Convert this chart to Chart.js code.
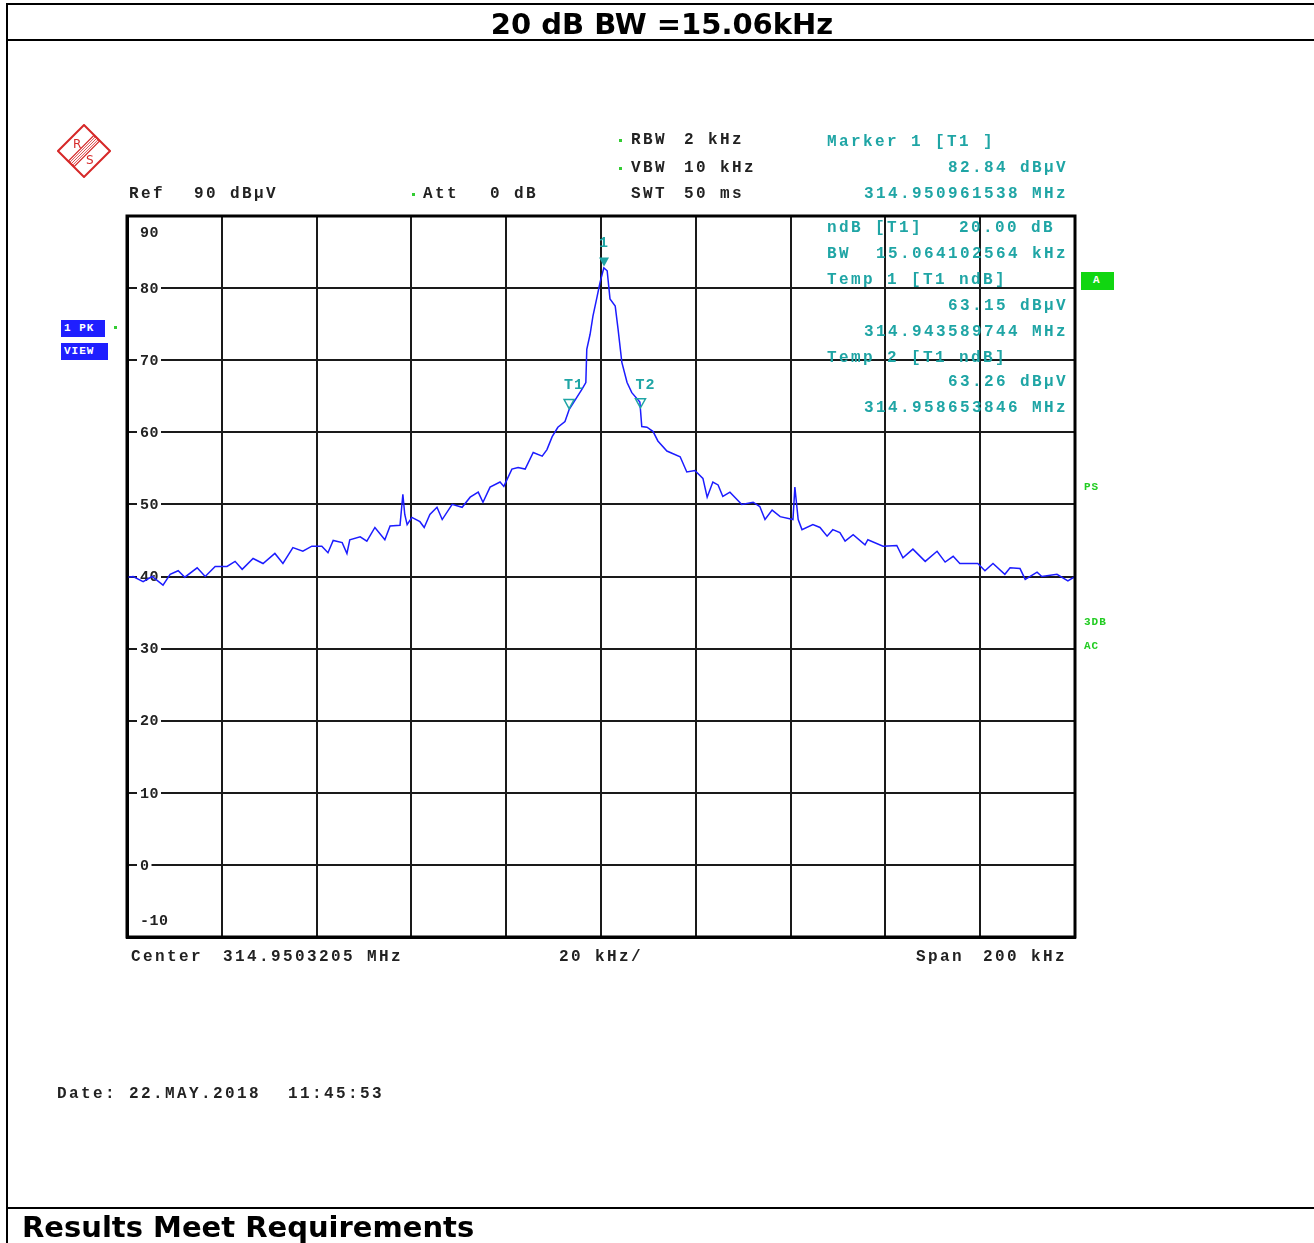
<!DOCTYPE html>
<html>
<head>
<meta charset="utf-8">
<title>20 dB BW</title>
<script src="https://cdn.jsdelivr.net/npm/chart.js@4/dist/chart.umd.min.js"></script>
<style>
  html, body { margin: 0; padding: 0; background: #fff; }
  body { width: 1314px; height: 1243px; position: relative; overflow: hidden; }
  #chart { position: absolute; left: 0; top: 0; }
  .rule { position: absolute; background: #000; }
  .hdr { position: absolute; font-family: "DejaVu Sans", Verdana, sans-serif; font-weight: bold;
         font-size: 29px; line-height: 29px; color: #000; white-space: pre; }
  .mono { position: absolute; font-family: "Liberation Mono", "Courier New", monospace; font-weight: bold;
          font-size: 16px; line-height: 16px; letter-spacing: 2.4px; white-space: pre; color: #222; }
  .teal { color: #1fa5a5; }
  .tiny { position: absolute; font-family: "Liberation Mono", monospace; font-weight: bold;
          font-size: 11px; line-height: 11px; letter-spacing: 1px; color: #22cc22; }
  .dot { position: absolute; width: 3px; height: 3px; background: #33cc33; }
  .box { position: absolute; color: #fff; font-family: "Liberation Mono", monospace; font-weight: bold;
         font-size: 11px; line-height: 17px; letter-spacing: 1px; padding-left: 3px; box-sizing: border-box; white-space: pre; }
</style>
</head>
<body>
<canvas id="chart" width="1314" height="1243"></canvas>

<div class="rule" style="left:6px;top:3px;width:1308px;height:2px"></div>
<div class="rule" style="left:6px;top:39px;width:1308px;height:2px"></div>
<div class="rule" style="left:6px;top:1207px;width:1308px;height:2px"></div>
<div class="rule" style="left:6px;top:3px;width:2px;height:1240px"></div>

<div class="hdr" style="left:7px;width:1310px;top:10px;text-align:center">20 dB BW =15.06kHz</div>
<div class="hdr" style="left:22px;top:1213px">Results Meet Requirements</div>

<svg style="position:absolute;left:57px;top:124px" width="54" height="54" viewBox="0 0 54 54">
  <polygon points="27,1 53,27 27,53 1,27" fill="none" stroke="#d62828" stroke-width="2"/>
  <g transform="rotate(-45 27 27)">
    <rect x="9" y="23" width="36" height="8" fill="none" stroke="#d62828" stroke-width="1.2"/>
    <line x1="9" y1="25" x2="45" y2="25" stroke="#d62828" stroke-width="0.8"/>
    <line x1="9" y1="27" x2="45" y2="27" stroke="#d62828" stroke-width="0.8"/>
    <line x1="9" y1="29" x2="45" y2="29" stroke="#d62828" stroke-width="0.8"/>
  </g>
  <text x="16" y="24" font-family="DejaVu Sans" font-size="12" fill="#d62828">R</text>
  <text x="29" y="40" font-family="DejaVu Sans" font-size="12" fill="#d62828">S</text>
</svg>

<div class="box" style="left:61px;top:320px;width:44px;height:17px;background:#1f1fff">1 PK</div>
<div class="box" style="left:61px;top:343px;width:47px;height:17px;background:#1f1fff">VIEW</div>
<div class="dot" style="left:114px;top:326px"></div>

<div class="box" style="left:1081px;top:272px;width:33px;height:18px;background:#11d611;padding-left:12px">A</div>
<div class="tiny" style="left:1084px;top:482px">PS</div>
<div class="tiny" style="left:1084px;top:617px">3DB</div>
<div class="tiny" style="left:1084px;top:641px">AC</div>

<div id="annot"></div>

<script>
// ─── Trace data ───────────────────────────────────────────────────────
// frequency offset from centre 314.9503205 MHz, in kHz
const freqKHz = [
  -100, -98.7, -96.6, -94.7, -92.4, -90.9, -89.2, -87.8, -85.2, -83.5,
  -81.4, -78.9, -77.2, -75.7, -73.4, -71.3, -68.8, -67.1, -65.0, -62.9,
  -61.0, -58.9, -57.6, -56.5, -54.6, -53.6, -53.0, -50.8, -49.4, -47.7,
  -45.6, -44.5, -42.4, -41.8, -41.4, -40.9, -39.9, -38.2, -37.3, -36.1,
  -34.6, -33.5, -31.4, -29.3, -27.6, -25.9, -24.9, -23.4, -21.3, -20.5,
  -18.8, -17.5, -16.0, -14.3, -12.4, -11.4, -10.3, -9.1, -7.6, -6.7,
  -4.0, -3.2, -3.0, -2.3, -1.7, -0.8, -0.2, 0.6, 1.3, 1.9,
  3.0, 3.6, 4.4, 5.5, 6.5, 8.2, 8.6, 9.7, 11.0, 12.0,
  13.9, 16.7, 18.1, 19.8, 21.5, 22.4, 23.6, 24.7, 25.7, 27.2,
  29.7, 32.1, 33.5, 34.6, 36.1, 37.8, 40.5, 40.9, 41.6, 42.4,
  44.7, 46.2, 47.7, 48.9, 50.4, 51.5, 53.2, 55.7, 56.3, 59.5,
  62.4, 63.7, 65.8, 68.4, 70.9, 72.6, 74.3, 75.7, 79.5, 81.0,
  82.7, 85.2, 86.3, 88.4, 89.5, 92.0, 93.0, 96.2, 98.5, 100
];
// level in dBµV
const levelDbuV = [
  39.9, 40.0, 39.3, 40.0, 38.8, 40.3, 40.8, 39.9, 41.2, 40.0,
  41.4, 41.4, 42.1, 41.0, 42.5, 41.8, 43.2, 41.8, 44.0, 43.5,
  44.2, 44.2, 43.3, 45.0, 44.7, 43.2, 45.1, 45.5, 44.9, 46.8,
  45.1, 47.0, 47.1, 51.4, 48.6, 47.2, 48.2, 47.6, 46.8, 48.6,
  49.6, 47.9, 50.0, 49.6, 51.0, 51.7, 50.3, 52.4, 53.1, 52.5,
  54.9, 55.1, 54.9, 57.2, 56.7, 57.6, 59.4, 60.7, 61.5, 63.2,
  66.0, 66.9, 71.5, 73.6, 76.1, 78.9, 80.8, 82.8, 82.4, 78.5,
  77.5, 74.3, 69.7, 66.9, 65.5, 64.2, 60.8, 60.7, 60.1, 58.8,
  57.4, 56.6, 54.5, 54.7, 53.6, 51.0, 53.1, 52.7, 51.1, 51.7,
  50.0, 50.3, 49.7, 47.9, 49.2, 48.3, 47.9, 52.4, 47.9, 46.5,
  47.2, 46.8, 45.6, 46.5, 46.1, 44.9, 45.8, 44.4, 45.1, 44.2,
  44.3, 42.6, 43.8, 42.1, 43.5, 42.0, 42.8, 41.8, 41.8, 40.8,
  41.8, 40.3, 41.2, 41.1, 39.6, 40.6, 40.0, 40.3, 39.4, 40.0
];

// markers: M1 peak, T1/T2 temp markers at -20 dB
const markerNames = ['1', 'T1', 'T2'];
const markerFreqKHz = [0.64, -6.73, 8.33];
const markerLevel = [82.84, 63.15, 63.26];

// y-axis grid labels (dBµV)
const yTickLabels = [90, 80, 70, 60, 50, 40, 30, 20, 10, 0, -10];

// ─── Instrument annotation text ───────────────────────────────────────
const annotations = [
  // [text, left, centreY, class]
  ['RBW', 631, 140, ''], ['2 kHz', 684, 140, ''],
  ['VBW', 631, 168, ''], ['10 kHz', 684, 168, ''],
  ['SWT', 631, 194, ''], ['50 ms', 684, 194, ''],
  ['Ref', 129, 194, ''], ['90 dBµV', 194, 194, ''],
  ['Att', 423, 194, ''], ['0 dB', 490, 194, ''],
  ['Marker 1 [T1 ]', 827, 142, 'teal'],
  ['82.84 dBµV', 948, 168, 'teal'],
  ['314.950961538 MHz', 864, 194, 'teal'],
  ['ndB [T1]', 827, 228, 'teal'], ['20.00 dB', 959, 228, 'teal'],
  ['BW', 827, 254, 'teal'], ['15.064102564 kHz', 876, 254, 'teal'],
  ['Temp 1 [T1 ndB]', 827, 280, 'teal'],
  ['63.15 dBµV', 948, 306, 'teal'],
  ['314.943589744 MHz', 864, 332, 'teal'],
  ['Temp 2 [T1 ndB]', 827, 358, 'teal'],
  ['63.26 dBµV', 948, 382, 'teal'],
  ['314.958653846 MHz', 864, 408, 'teal'],
  ['Center', 131, 957, ''], ['314.9503205 MHz', 223, 957, ''],
  ['20 kHz/', 559, 957, ''],
  ['Span', 916, 957, ''], ['200 kHz', 983, 957, ''],
  ['Date: 22.MAY.2018', 57, 1094, ''], ['11:45:53', 288, 1094, '']
];
const greenDots = [[620, 140], [620, 168], [413, 194]];

function renderAnnotations() {
  const host = document.getElementById('annot');
  annotations.forEach(([text, x, y, cls]) => {
    const el = document.createElement('div');
    el.className = 'mono ' + cls;
    el.style.left = x + 'px';
    el.style.top = (y - 8) + 'px';
    el.textContent = text;
    host.appendChild(el);
  });
  greenDots.forEach(([x, y]) => {
    const d = document.createElement('div');
    d.className = 'dot';
    d.style.left = (x - 1) + 'px';
    d.style.top = (y - 1) + 'px';
    host.appendChild(d);
  });
}

// ─── Plugins ──────────────────────────────────────────────────────────
const yLabelPlugin = {
  id: 'yLabels',
  beforeDatasetsDraw(chart) {
    const { ctx, scales: { y }, chartArea } = chart;
    ctx.save();
    ctx.font = 'bold 15px "Liberation Mono", monospace';
    ctx.letterSpacing = '0.5px';
    ctx.textBaseline = 'middle';
    yTickLabels.forEach(v => {
      let py = y.getPixelForValue(v);
      const onLine = v !== 90 && v !== -10;
      if (v === 90) py += 16;
      if (v === -10) py -= 17;
      const tx = chartArea.left + 13;
      const w = ctx.measureText(String(v)).width;
      if (onLine) {
        ctx.fillStyle = '#fff';
        ctx.fillRect(tx - 3, py - 3, w + 5, 6);
      }
      ctx.fillStyle = '#222';
      ctx.fillText(String(v), tx, py + 1);
    });
    ctx.restore();
  }
};

const markerPlugin = {
  id: 'markers',
  afterDatasetsDraw(chart) {
    const { ctx, scales: { x, y } } = chart;
    ctx.save();
    ctx.strokeStyle = '#1fa5a5';
    ctx.fillStyle = '#1fa5a5';
    ctx.lineWidth = 1.5;
    ctx.font = 'bold 15px "Liberation Mono", monospace';
    ctx.letterSpacing = '1px';
    ctx.textAlign = 'center';
    ctx.textBaseline = 'middle';
    markerNames.forEach((name, i) => {
      const px = x.getPixelForValue(markerFreqKHz[i]);
      const py = y.getPixelForValue(markerLevel[i]);
      ctx.beginPath();
      ctx.moveTo(px, py - 1);
      ctx.lineTo(px - 5, py - 10);
      ctx.lineTo(px + 5, py - 10);
      ctx.closePath();
      if (name === '1') ctx.fill(); else ctx.stroke();
      const dx = name === '1' ? 0 : 5;
      ctx.fillText(name, px + dx, py - 24);
    });
    ctx.restore();
  },
  afterDraw(chart) {
    const { ctx, chartArea: a } = chart;
    ctx.save();
    ctx.strokeStyle = '#000';
    ctx.lineWidth = 3;
    ctx.strokeRect(a.left, a.top, a.right - a.left, a.bottom - a.top);
    ctx.restore();
  }
};

// ─── Chart ────────────────────────────────────────────────────────────
function initChart() {
  const gridOpts = { color: '#1a1a1a', lineWidth: 2, drawTicks: false };
  new Chart(document.getElementById('chart'), {
    type: 'line',
    data: {
      datasets: [{
        data: freqKHz.map((f, i) => ({ x: f, y: levelDbuV[i] })),
        borderColor: '#1c1cff',
        borderWidth: 1.5,
        pointRadius: 0,
        tension: 0,
        fill: false
      }]
    },
    options: {
      responsive: false,
      animation: false,
      layout: { padding: { left: 127, right: 239, top: 216, bottom: 306 } },
      plugins: { legend: { display: false }, tooltip: { enabled: false } },
      scales: {
        x: {
          type: 'linear', min: -100, max: 100,
          ticks: { display: false, stepSize: 20 },
          grid: gridOpts,
          border: { color: '#000', width: 3 }
        },
        y: {
          type: 'linear', min: -10, max: 90,
          ticks: { display: false, stepSize: 10 },
          grid: gridOpts,
          border: { color: '#000', width: 3 }
        }
      }
    },
    plugins: [yLabelPlugin, markerPlugin]
  });
}

renderAnnotations();
initChart();
</script>
</body>
</html>
